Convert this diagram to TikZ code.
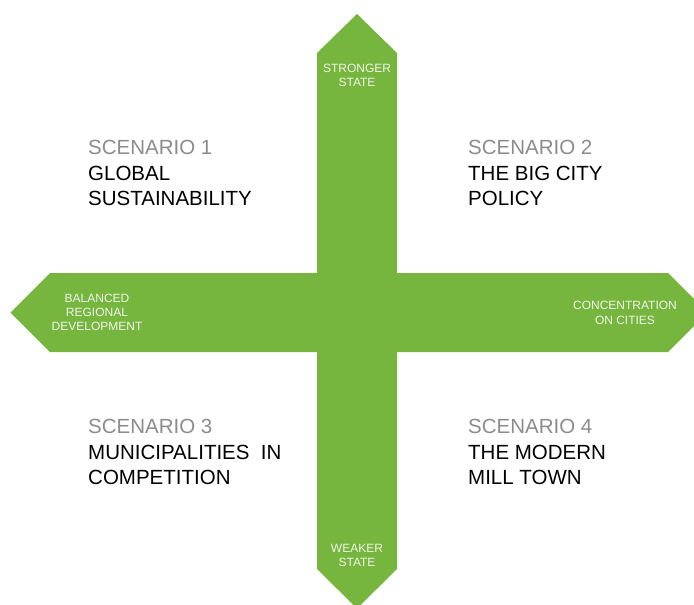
\documentclass[tikz,border=0pt]{standalone}
\usepackage{fontspec}
\setmainfont{Liberation Sans}
\definecolor{arrowgreen}{RGB}{118,181,62}
\definecolor{scengrey}{RGB}{140,140,140}
\definecolor{lbl}{RGB}{240,246,232}
\begin{document}
\begin{tikzpicture}[x=1pt,y=-1pt,
  scen/.style={anchor=base west,inner sep=0pt,font=\fontsize{20.5}{24}\selectfont,text=scengrey},
  title/.style={anchor=base west,inner sep=0pt,font=\fontsize{20.5}{24}\selectfont,text=black},
  albl/.style={anchor=base,inner sep=0pt,font=\fontsize{12}{14}\selectfont,text=lbl}]
\useasboundingbox (0,0) rectangle (694,605);
\clip (0,0) rectangle (694,605);
\fill[white] (0,0) rectangle (694,605);
% cross arrow
\fill[arrowgreen] (357,14) -- (397,53) -- (397,273) -- (668,273) -- (707.5,312.5)
  -- (668,352) -- (397,352) -- (397,569) -- (357,608.5) -- (317,569) -- (317,352)
  -- (50,352) -- (10.5,312.5) -- (50,273) -- (317,273) -- (317,53) -- cycle;
% arrow labels
\node[albl] (s1) at (357,72) {STRONGER};
\node[albl] (s2) at (357,86) {STATE};
\node[albl] (w1) at (357,552) {WEAKER};
\node[albl] (w2) at (357,566) {STATE};
\node[albl] (b1) at (97,302) {BALANCED};
\node[albl] (b2) at (97,316) {REGIONAL};
\node[albl] (b3) at (97,330) {DEVELOPMENT};
\node[albl] (c1) at (625,309) {CONCENTRATION};
\node[albl] (c2) at (625,324) {ON CITIES};
% scenarios
\node[scen] (sc1) at (88,154) {SCENARIO 1};
\node[title] (sc1a) at (88,180) {GLOBAL};
\node[title] (sc1b) at (88,205) {SUSTAINABILITY};
\node[scen] (sc2) at (468,154) {SCENARIO 2};
\node[title] (sc2a) at (468,180) {THE BIG CITY};
\node[title] (sc2b) at (468,205) {POLICY};
\node[scen] (sc3) at (88,433) {SCENARIO 3};
\node[title] (sc3a) at (88,459) {MUNICIPALITIES\ \ IN};
\node[title] (sc3b) at (88,484) {COMPETITION};
\node[scen] (sc4) at (468,433) {SCENARIO 4};
\node[title] (sc4a) at (468,459) {THE MODERN};
\node[title] (sc4b) at (468,484) {MILL TOWN};
\end{tikzpicture}
\end{document}
